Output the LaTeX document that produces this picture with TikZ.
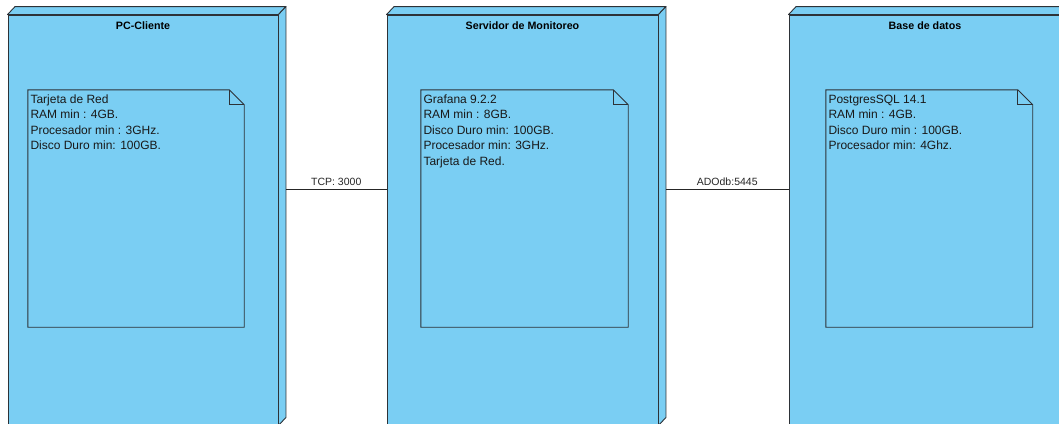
\documentclass[tikz,border=0pt]{standalone}
\usepackage{fontspec}
\setmainfont{Liberation Sans}
\usetikzlibrary{calc}

\definecolor{nodeblue}{RGB}{122,206,243}
\definecolor{edgegray}{RGB}{45,50,55}

\tikzset{
  front/.style={draw=edgegray, fill=nodeblue, line width=0.9pt, inner sep=0pt},
  face/.style={draw=edgegray, fill=nodeblue, line width=0.9pt, line join=round},
  notebox/.style={fill=nodeblue, inner sep=0pt, minimum height=237pt},
  noteline/.style={draw=edgegray, line width=0.9pt, line join=miter},
  notetext/.style={anchor=north west, inner sep=0pt, align=left,
    font=\fontsize{12}{15.5}\selectfont, text=black!90},
  nodetitle/.style={anchor=base, inner sep=0pt, font=\fontsize{10.7}{12}\selectfont\bfseries},
  link/.style={draw=black!85, line width=0.9pt},
  linklabel/.style={anchor=base, inner sep=0pt, font=\fontsize{10.5}{12}\selectfont, text=black!85}
}

% top and side faces of a 3-D deployment node
\newcommand{\boxfaces}[1]{%
  \filldraw[face] (#1.north west) -- ++(7.5,-8) -- ($(#1.north east)+(7.5,-8)$) -- (#1.north east) -- cycle;
  \filldraw[face] (#1.north east) -- ++(7.5,-8) -- ($(#1.south east)+(7.5,-8)$) -- (#1.south east) -- cycle;}

% outline of a note with a folded corner
\newcommand{\noteoutline}[1]{%
  \draw[noteline] (#1.north west) -- ([xshift=-15pt]#1.north east) -- ([yshift=-15pt]#1.north east)
    -- (#1.south east) -- (#1.south west) -- cycle;
  \draw[noteline] ([xshift=-15pt]#1.north east) |- ([yshift=-15pt]#1.north east);}

\begin{document}
\begin{tikzpicture}[x=1pt,y=-1pt]
\useasboundingbox (0,0) rectangle (1059,423);

% deployment nodes (front faces)
\node[front, minimum width=270pt, minimum height=410pt] (pc) at (143,220) {};
\boxfaces{pc}
\node[front, minimum width=271pt, minimum height=410pt] (srv) at (522.5,220) {};
\boxfaces{srv}
\node[front, minimum width=272pt, minimum height=410pt] (db) at (925,220) {};
\boxfaces{db}

% titles
\node[nodetitle] (pc-title) at (143,29.5) {PC-Cliente};
\node[nodetitle] (srv-title) at (522.5,29.5) {Servidor de Monitoreo};
\node[nodetitle] (db-title) at (925,29.5) {Base de datos};

% notes
\node[notebox, minimum width=216pt] (n1) at (136,208.5) {};
\noteoutline{n1}
\node[notetext] (n1t) at ([xshift=2.5pt,yshift=-4.7pt]n1.north west)
  {Tarjeta de Red\\RAM min : 4GB.\\Procesador min : 3GHz.\\Disco Duro min: 100GB.};

\node[notebox, minimum width=207pt] (n2) at (524.5,208.5) {};
\noteoutline{n2}
\node[notetext] (n2t) at ([xshift=2.5pt,yshift=-4.7pt]n2.north west)
  {Grafana 9.2.2\\RAM min : 8GB.\\Disco Duro min: 100GB.\\Procesador min: 3GHz.\\Tarjeta de Red.};

\node[notebox, minimum width=206.5pt] (n3) at (929.25,208.5) {};
\noteoutline{n3}
\node[notetext] (n3t) at ([xshift=2.5pt,yshift=-4.7pt]n3.north west)
  {PostgresSQL 14.1\\RAM min : 4GB.\\Disco Duro min : 100GB.\\Procesador min: 4Ghz.};

% connections
\coordinate (pc-r) at ($(pc.east |- 0,189)+(7.5,0)$);
\coordinate (srv-r) at ($(srv.east |- 0,189)+(7.5,0)$);
\draw[link] (pc-r) -- (srv.west |- pc-r);
\draw[link] (srv-r) -- (db.west |- srv-r);
\node[linklabel] (l1) at ($(pc-r)!0.5!(srv.west |- pc-r)+(0,-3.2)$) {TCP: 3000};
\node[linklabel] (l2) at ($(srv-r)!0.5!(db.west |- srv-r)+(0,-3.2)$) {ADOdb:5445};
\end{tikzpicture}
\end{document}
